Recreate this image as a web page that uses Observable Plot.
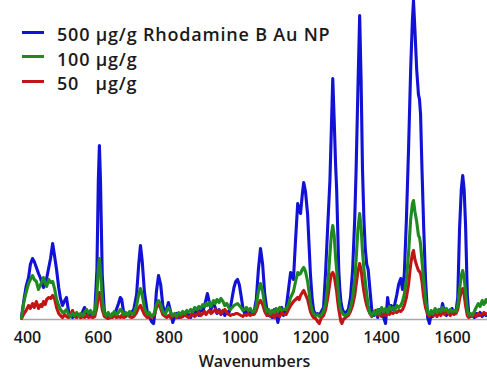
<!DOCTYPE html>
<html>
<head>
<meta charset="utf-8">
<script src="https://cdn.jsdelivr.net/npm/d3@7"></script>
<script src="https://cdn.jsdelivr.net/npm/@observablehq/plot@0.6"></script>
<style>
  html, body { margin: 0; padding: 0; background: #fff; }
  #wrap { position: relative; width: 487px; height: 381px; overflow: hidden; }
  #legend { position: absolute; left: 22px; top: 22px; font-family: "Open Sans", sans-serif; font-weight: 600; font-size: 18px; letter-spacing: 0.8px; color: #1a1a1a; }
  .row { display: flex; align-items: center; height: 24.5px; white-space: pre; }
  .row .lbl { display: inline-block; line-height: 22px; height: 22px; overflow: visible; }
  .sw { width: 22px; height: 3px; margin-right: 13px; margin-top: -4px; }
</style>
</head>
<body>
<div id="wrap"><div id="legend"></div></div>
<script>
const seriesNames = ["500 µg/g Rhodamine B Au NP", "100 µg/g", "50   µg/g"];
const seriesColors = ["#1212d6", "#1f8a1f", "#c21414"];
const xTicks = [400, 600, 800, 1000, 1200, 1400, 1600];

const wavenumbers = [383,390,396,403,408,414,419,425,431,437,441,445,450,454,460,465,471,477,482,488,493,499,505,510,516,522,527,533,539,545,550,556,561,567,573,578,584,590,596,600,603,606,611,617,622,628,634,640,645,651,657,662,666,671,677,683,688,694,700,708,714,719,724,730,738,744,750,756,760,764,770,776,782,789,793,798,804,810,816,821,827,833,838,844,850,855,861,867,872,878,884,889,895,900,904,908,913,918,925,930,935,941,946,952,957,963,968,973,978,983,988,993,998,1003,1008,1013,1018,1024,1029,1034,1040,1046,1052,1058,1064,1070,1076,1081,1086,1091,1097,1102,1107,1112,1118,1123,1130,1137,1143,1147,1151,1157,1163,1167,1171,1176,1180,1185,1191,1195,1199,1204,1208,1214,1219,1224,1230,1236,1242,1248,1254,1258,1262,1266,1270,1273,1276,1279,1282,1285,1288,1292,1298,1302,1306,1312,1318,1324,1328,1333,1338,1342,1346,1350,1354,1358,1362,1367,1372,1378,1383,1389,1394,1400,1406,1411,1417,1422,1427,1432,1437,1443,1448,1454,1459,1464,1470,1476,1482,1487,1490,1494,1499,1504,1507,1510,1514,1519,1524,1530,1535,1540,1545,1551,1556,1562,1567,1572,1578,1583,1589,1594,1599,1605,1610,1615,1620,1625,1629,1633,1637,1642,1646,1651,1656,1662,1667,1673,1678,1684,1689,1695,1699];

const blue500 = [2,20,33,42,55,61,58,52,46,41,36,32,38,41,52,61,76,62,50,32,21,14,19,22,8,4,2,6,3,5,2,8,12,6,3,7,4,8,50,140,174,140,45,8,3,5,2,6,4,10,16,22,20,8,3,6,4,7,10,25,55,74,58,28,8,3,-2,-4,8,28,44,35,14,6,10,17,8,-3,3,6,2,5,3,7,4,6,2,8,5,9,4,12,8,14,20,26,18,10,17,12,6,10,5,9,4,8,6,12,22,32,38,40,35,24,12,6,8,5,9,6,8,20,50,71,55,25,10,4,8,2,10,5,-3,6,12,4,10,30,47,44,40,80,116,110,106,125,137,128,105,75,45,20,9,5,6,4,8,12,49,95,139,190,241,200,155,130,90,49,30,18,12,8,6,8,10,22,49,100,150,230,304,240,150,100,70,55,50,30,10,4,8,2,10,5,2,-4,22,8,14,10,15,25,35,41,30,45,100,170,250,300,319,290,250,225,220,205,150,90,40,2,-4,6,3,8,5,10,6,16,7,4,9,5,11,6,8,22,90,130,144,130,95,25,6,3,5,2,6,4,7,3,6,4,5];

const green100 = [2,18,27,36,40,44,40,38,30,35,38,42,36,33,40,37,38,30,20,14,10,7,8,10,5,3,6,4,7,3,6,4,7,10,6,9,5,6,25,52,61,50,20,6,4,7,3,5,8,5,7,10,9,5,7,4,8,6,6,14,25,31,24,12,5,7,3,5,8,15,19,15,8,5,9,12,7,4,6,3,7,5,8,6,9,7,10,8,12,10,13,11,15,13,16,14,17,13,19,16,20,17,21,18,14,16,12,10,12,14,15,16,14,12,9,10,12,9,11,8,8,14,28,36,28,14,8,10,6,9,7,11,8,12,9,10,10,15,22,25,28,38,47,45,46,50,52,48,38,28,16,9,6,4,5,3,5,8,16,35,65,85,94,84,62,50,35,22,14,9,7,5,4,5,6,12,22,40,60,90,106,92,68,50,38,25,14,6,4,8,5,10,6,12,8,11,7,13,10,12,9,14,12,14,18,25,40,66,100,116,119,108,98,84,82,75,58,39,20,8,5,9,6,11,7,10,8,12,9,11,7,10,8,9,8,14,30,44,49,42,28,10,4,6,4,8,12,16,13,19,15,20,17];

const red50 = [1,6,9,14,11,16,12,18,11,15,13,18,15,20,22,21,24,20,12,6,4,2,5,3,2,5,9,3,2,4,2,3,2,4,2,3,2,3,12,24,27,22,10,3,2,1,3,2,4,2,3,2,4,2,3,5,3,2,3,7,12,14,10,5,2,3,2,4,6,12,16,11,5,3,2,4,2,3,5,2,4,2,3,5,3,2,4,6,3,5,7,4,6,8,5,7,9,6,8,10,7,9,6,8,10,7,5,4,5,5,6,6,5,4,3,5,4,6,4,5,5,9,16,19,15,8,4,6,3,5,2,6,4,3,7,5,5,10,14,16,18,20,22,20,24,27,29,25,20,14,8,4,2,1,-2,-4,2,4,10,22,37,45,47,44,35,28,18,10,4,-2,-4,0,2,3,4,8,14,24,35,48,56,50,38,28,20,14,10,6,3,6,9,4,7,3,6,4,8,5,7,6,8,7,9,8,10,14,22,35,55,66,69,60,54,49,48,46,38,22,12,5,3,6,4,7,3,6,4,8,5,9,6,4,7,5,6,10,20,28,31,25,14,4,2,4,3,5,3,6,4,5,7,5,6];

const seriesValues = [blue500, green100, red50];

// legend
const legend = document.getElementById("legend");
seriesNames.forEach((name, i) => {
  const row = document.createElement("div");
  row.className = "row";
  const sw = document.createElement("span");
  sw.className = "sw";
  sw.style.background = seriesColors[i];
  row.appendChild(sw);
  const lbl = document.createElement("span");
  lbl.className = "lbl";
  lbl.textContent = name;
  row.appendChild(lbl);
  legend.appendChild(row);
});

const rows = (k) => wavenumbers.map((w, i) => ({w, v: seriesValues[k][i], s: seriesNames[k]}));

const chart = Plot.plot({
  width: 487,
  height: 381,
  marginTop: 0,
  marginBottom: 62,
  marginLeft: 21,
  marginRight: 0,
  style: {fontFamily: "'Open Sans', sans-serif", fontSize: "16px", fontWeight: 600, color: "#1a1a1a", background: "transparent"},
  x: {domain: [383, 1699], ticks: xTicks, tickSize: 0, tickPadding: 12, tickFormat: d => String(d), label: "Wavenumbers", labelAnchor: "center", labelArrow: "none", labelOffset: 47},
  y: {domain: [0, 319], axis: null},
  marks: [
    Plot.ruleY([0], {stroke: "#a8a8a8", strokeWidth: 1.5}),
    Plot.lineY(rows(0), {x: "w", y: "v", stroke: seriesColors[0], strokeWidth: 3.1, strokeLinejoin: "round"}),
    Plot.lineY(rows(2), {x: "w", y: "v", stroke: seriesColors[2], strokeWidth: 3.1, strokeLinejoin: "round"}),
    Plot.lineY(rows(1), {x: "w", y: "v", stroke: seriesColors[1], strokeWidth: 3.1, strokeLinejoin: "round"})
  ]
});
chart.style.position = "absolute";
chart.style.left = "0";
chart.style.top = "0";
document.getElementById("wrap").insertBefore(chart, legend);
</script>
</body>
</html>
